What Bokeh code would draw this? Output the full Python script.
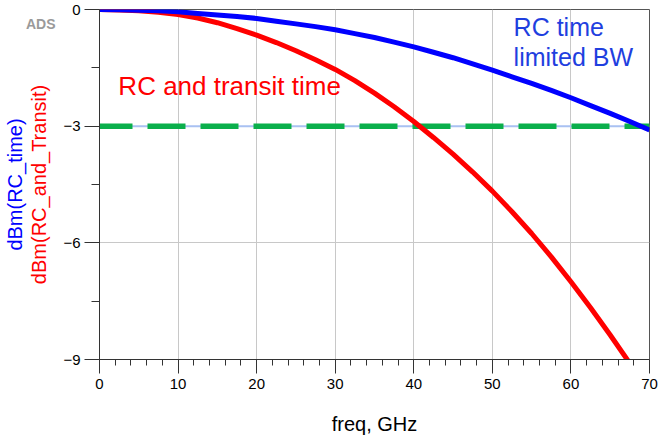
from bokeh.plotting import figure
from bokeh.models import Range1d, FixedTicker, LinearAxis, Label
from bokeh.embed import file_html
from bokeh.resources import INLINE

# ---- data ----
freq = [0, 2.5, 5, 7.5, 10, 12.5, 15, 17.5, 20, 22.5, 25, 27.5, 30, 32.5, 35,
        37.5, 40, 42.5, 45, 47.5, 50, 52.5, 55, 57.5, 60, 62.5, 65, 67.5, 70]
rc_time = [0.0, -0.004, -0.02, -0.035, -0.06, -0.10, -0.14, -0.18, -0.23,
           -0.30, -0.37, -0.44, -0.52, -0.62, -0.72, -0.84, -0.96, -1.10,
           -1.24, -1.40, -1.56, -1.73, -1.90, -2.08, -2.27, -2.47, -2.67,
           -2.88, -3.10]
rc_and_transit = [0.0, -0.01, -0.03, -0.07, -0.13, -0.22, -0.34, -0.49, -0.66,
                  -0.85, -1.06, -1.29, -1.54, -1.83, -2.15, -2.50, -2.88, -3.29,
                  -3.72, -4.18, -4.67, -5.20, -5.76, -6.36, -7.00, -7.67, -8.37,
                  -9.10, -9.86]
ref_level = -3
x_ticks = [0, 10, 20, 30, 40, 50, 60, 70]
x_minor = [v for v in range(0, 71, 2) if v % 10]
y_ticks = [-9, -6, -3, 0]
y_minor = [-7.5, -4.5, -1.5]
logo_text = "ADS"
logo_pos = -0.38

FONT = "Liberation Sans"
BLUE_TXT = "#1f3fdf"

p = figure(frame_width=550, frame_height=350,
           x_range=Range1d(0, 70), y_range=Range1d(-9, 0),
           output_backend="svg", toolbar_location=None,
           min_border_left=99, min_border_right=9,
           min_border_top=9, min_border_bottom=78)
p.background_fill_color = "white"
p.border_fill_color = "white"
p.outline_line_color = "#555555"
p.outline_line_width = 1

# grids
p.xgrid.ticker = FixedTicker(ticks=x_ticks)
p.xgrid.grid_line_color = "#c8c8c8"
p.ygrid.ticker = FixedTicker(ticks=[-6])
p.ygrid.grid_line_color = "#c8c8c8"

# x axis
xa = p.xaxis[0]
xa.ticker = FixedTicker(ticks=x_ticks, minor_ticks=x_minor)
xa.axis_line_color = "#333333"
xa.major_tick_line_color = "#333333"
xa.minor_tick_line_color = "#333333"
xa.major_tick_out = 14
xa.major_tick_in = 0
xa.minor_tick_out = 6
xa.minor_tick_in = 0
xa.major_label_standoff = 5
xa.major_label_text_font = FONT
xa.major_label_text_font_size = "15px"
xa.major_label_text_color = "black"
xa.axis_label = "freq, GHz"
xa.axis_label_text_font = FONT
xa.axis_label_text_font_size = "20px"
xa.axis_label_text_font_style = "normal"
xa.axis_label_text_color = "black"
xa.axis_label_standoff = 21

# y axis
ya = p.yaxis[0]
ya.ticker = FixedTicker(ticks=y_ticks, minor_ticks=y_minor)
ya.axis_line_color = "#333333"
ya.major_tick_line_color = "#333333"
ya.minor_tick_line_color = "#333333"
ya.major_tick_out = 15
ya.major_tick_in = 0
ya.minor_tick_out = 8
ya.minor_tick_in = 0
ya.major_label_standoff = 4
ya.major_label_text_font = FONT
ya.major_label_text_font_size = "15px"
ya.major_label_text_color = "black"
ya.axis_label = "dBm(RC_and_Transit)"
ya.axis_label_text_font = FONT
ya.axis_label_text_font_size = "20px"
ya.axis_label_text_font_style = "normal"
ya.axis_label_text_color = "#ff0000"
ya.axis_label_standoff = 10

# outer left axis: blue label, plus the "ADS" mark as its only tick label
ya2 = LinearAxis(axis_label="dBm(RC_time)",
                 ticker=FixedTicker(ticks=[logo_pos]),
                 major_label_overrides={logo_pos: logo_text},
                 major_label_text_font=FONT,
                 major_label_text_font_size="14px",
                 major_label_text_font_style="bold",
                 major_label_text_color="#9a9a9a",
                 major_label_standoff=-30,
                 major_tick_out=0, major_tick_in=0,
                 minor_tick_out=0, minor_tick_in=0,
                 major_tick_line_color=None, minor_tick_line_color=None,
                 axis_line_color=None, axis_label_standoff=-3,
                 axis_label_text_font=FONT, axis_label_text_font_size="20px",
                 axis_label_text_font_style="normal",
                 axis_label_text_color="#0000ff")
p.add_layout(ya2, "left")

# reference line at -3 dB
p.line(x=[freq[0], freq[-1]], y=[ref_level, ref_level],
       line_color="#a9c1f2", line_width=2)
p.line(x=[freq[0], freq[-1]], y=[ref_level, ref_level],
       line_color="#0aaf4b", line_width=5.5, line_dash="38 15",
       line_dash_offset=5)

# curves
p.line(freq, rc_and_transit, line_color="#ff0000", line_width=5)
p.line(freq, rc_time, line_color="#0000ff", line_width=5)

# annotations
p.add_layout(Label(x=52.7, y=-0.455, text="RC time", text_font=FONT,
                   text_font_size="25px", text_color=BLUE_TXT,
                   text_baseline="alphabetic"))
p.add_layout(Label(x=52.7, y=-1.226, text="limited BW", text_font=FONT,
                   text_font_size="25px", text_color=BLUE_TXT,
                   text_baseline="alphabetic"))
p.add_layout(Label(x=2.4, y=-1.97, text="RC and transit time", text_font=FONT,
                   text_font_size="26px", text_color="#ff0000",
                   text_baseline="alphabetic"))

open("out.html", "w").write(file_html(p, INLINE))
